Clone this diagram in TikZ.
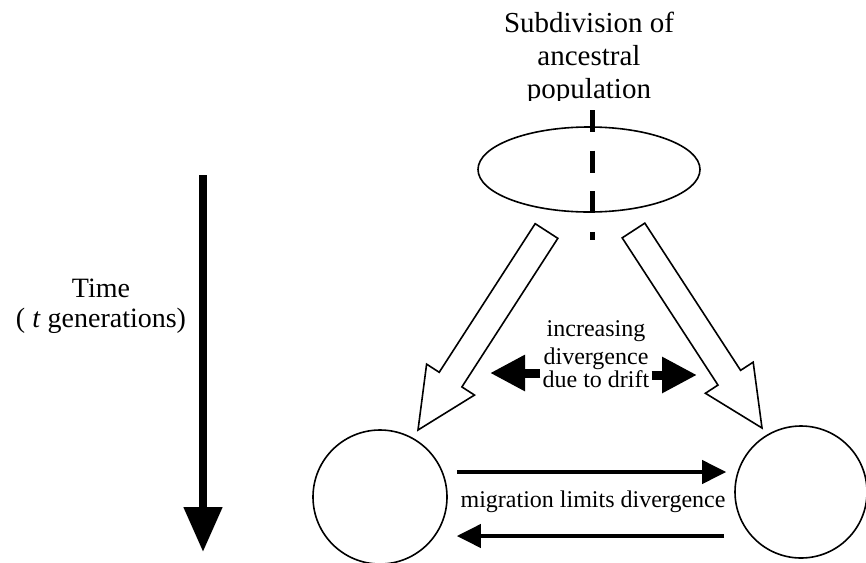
\documentclass[tikz,border=0pt]{standalone}
\usepackage{fontspec}
\setmainfont{Liberation Serif}
\usetikzlibrary{arrows.meta,calc,shapes.geometric}

\tikzset{
  pop/.style={circle, draw, line width=0.8pt, inner sep=0pt},
  title/.style={font=\fontsize{14.5}{16.5}\selectfont, align=center, inner sep=0pt},
  label12/.style={font=\fontsize{12}{11.5}\selectfont, align=center, inner sep=1pt},
  timearrow/.style={line width=4pt, -{Triangle[length=22.5pt,width=18.5pt]}},
  migarrow/.style={line width=2pt, -{Triangle[length=12pt,width=11.5pt]}},
  driftarrow/.style={line width=4.5pt, -{Triangle[length=17.5pt,width=17pt]}},
  splitline/.style={line width=2.5pt, dash pattern=on 11pt off 9.3pt},
  hollow/.style={draw, line width=0.8pt, fill=white, line join=miter},
}

% wide open arrow from #1 (tail) to #2 (tip)
\newcommand{\hollowarrow}[2]{%
  \coordinate (#1-b) at ($(#2)!30pt!(#1)$);
  \draw[hollow] ($(#1)!6.75pt!90:(#2)$)
    -- ($(#1-b)!6.75pt!90:(#2)$)
    -- ($(#1-b)!14.25pt!90:(#2)$)
    -- (#2)
    -- ($(#1-b)!14.25pt!-90:(#2)$)
    -- ($(#1-b)!6.75pt!-90:(#2)$)
    -- ($(#1)!6.75pt!-90:(#2)$)
    -- cycle;
}

\begin{document}
\begin{tikzpicture}[x=0.5pt, y=-0.5pt]
  \useasboundingbox (0,0) rectangle (866,562);

  % ancestral population, split down the middle
  \node[ellipse, draw, line width=0.8pt, minimum width=111pt, minimum height=42.5pt, inner sep=0pt] (anc) at (589,169.5) {};
  \begin{scope}
    \clip (0,0) rectangle (866,100);
    \node[title, anchor=north] (subdiv) at (589,12) {Subdivision of\\ancestral\\population};
  \end{scope}
  \coordinate (cuttop) at (592,110);
  \coordinate (cutend) at (592,240);
  \draw[splitline] (cuttop) -- (cutend);

  % daughter populations
  \node[pop, minimum size=67pt] (lpop) at (380,497) {};
  \node[pop, minimum size=66pt] (rpop) at (801,492) {};

  % open arrows down to the daughters
  \coordinate (ltail) at (546.5,231);
  \coordinate (ltip) at (418,430);
  \coordinate (rtail) at (633.5,230.5);
  \coordinate (rtip) at (762,428);
  \hollowarrow{ltail}{ltip}
  \hollowarrow{rtail}{rtip}

  % drift
  \node[label12, anchor=north] (drift) at (596,318) {increasing\\[2.5pt]divergence\\due to drift};
  \coordinate (dl) at (490,373);
  \coordinate (dr) at (697,375);
  \draw[driftarrow] (drift.west |- dl) -- (dl);
  \draw[driftarrow] (drift.east |- dr) -- (dr);

  % migration
  \draw[migarrow, shorten <=4.5pt, shorten >=4pt] (lpop.east |- 0,472) -- (rpop.west |- 0,472);
  \draw[migarrow, shorten <=5pt, shorten >=4.5pt] (rpop.west |- 0,536) -- (lpop.east |- 0,536);
  \node[label12, anchor=base] (mig) at (593,507) {migration limits divergence};

  % time axis
  \coordinate (ttop) at (203,175);
  \coordinate (tend) at (203,552);
  \draw[timearrow] (ttop) -- (tend);
  \node[align=center, font=\fontsize{14}{13.5}\selectfont, inner sep=0pt] (time) at (101,306) {Time\\[1.5pt]( \textit{t} generations)};
\end{tikzpicture}
\end{document}
